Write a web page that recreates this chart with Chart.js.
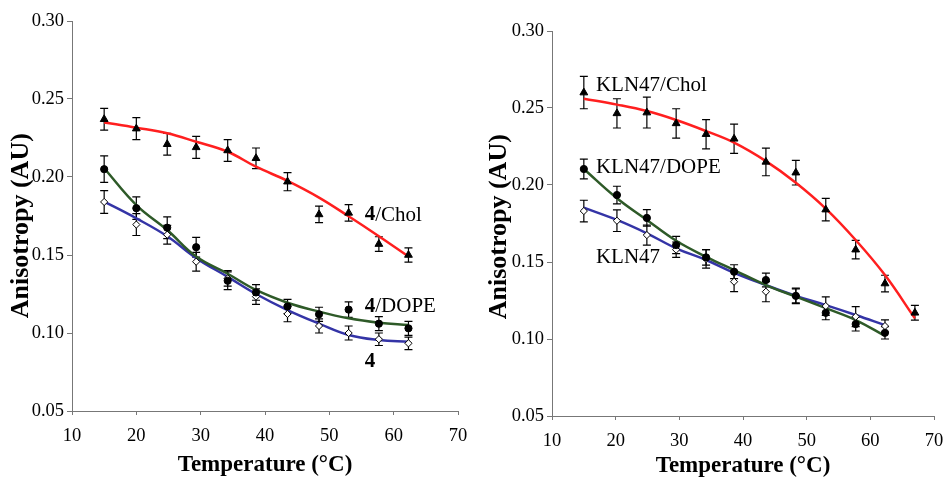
<!DOCTYPE html>
<html>
<head>
<meta charset="utf-8">
<script src="https://cdn.jsdelivr.net/npm/chart.js@4"></script>
<style>
  body { margin: 0; background: #fff; }
  canvas { position: absolute; top: 0; }
  #left { left: 0; }
  #right { left: 472px; }
</style>
</head>
<body>
<canvas id="left" width="472" height="478"></canvas>
<canvas id="right" width="473" height="478"></canvas>
<script>
// left panel: compound 4
const tempL = [15, 20, 24.8, 29.3, 34.2, 38.6, 43.5, 48.4, 53, 57.7, 62.3];
const cholL = [0.237, 0.231, 0.221, 0.219, 0.217, 0.212, 0.197, 0.176, 0.177, 0.157, 0.150];
const cholErrL = [0.007, 0.007, 0.007, 0.007, 0.007, 0.0066, 0.0058, 0.0053, 0.0053, 0.0047, 0.0046];
const dopeL = [0.205, 0.180, 0.1675, 0.155, 0.1335, 0.126, 0.117, 0.112, 0.115, 0.106, 0.103];
const dopeErrL = [0.0085, 0.0072, 0.007, 0.0063, 0.0057, 0.005, 0.0045, 0.0045, 0.005, 0.0045, 0.0045];
const plainL = [0.184, 0.1695, 0.163, 0.1457, 0.135, 0.1233, 0.1122, 0.1045, 0.100, 0.096, 0.0934];
const plainErrL = [0.0073, 0.007, 0.006, 0.006, 0.005, 0.005, 0.005, 0.0045, 0.0045, 0.004, 0.004];
const fitCholL = [0.235, 0.2316, 0.228, 0.2226, 0.2162, 0.2066, 0.1975, 0.1868, 0.1748, 0.162, 0.149];
const fitDopeL = [0.2056, 0.182, 0.166, 0.149, 0.138, 0.1276, 0.1194, 0.1137, 0.1094, 0.1066, 0.1051];
const fitPlainL = [0.1842, 0.1735, 0.162, 0.148, 0.136, 0.125, 0.1147, 0.106, 0.0987, 0.0955, 0.0944];

// right panel: KLN47
const tempR = [15, 20.2, 24.9, 29.5, 34.2, 38.6, 43.6, 48.3, 53, 57.7, 62.3, 67];
const cholR = [0.260, 0.2465, 0.247, 0.240, 0.233, 0.230, 0.215, 0.208, 0.184, 0.158, 0.136, 0.117];
const cholErrR = [0.0105, 0.0095, 0.01, 0.0095, 0.0095, 0.0095, 0.009, 0.008, 0.0073, 0.006, 0.0054, 0.0048];
const dopeR = [0.2104, 0.1935, 0.1786, 0.161, 0.153, 0.1437, 0.1383, 0.128, 0.117, 0.1097, 0.104];
const dopeErrR = [0.0064, 0.0057, 0.0054, 0.0056, 0.005, 0.0045, 0.0045, 0.0045, 0.0045, 0.0045, 0.004];
const plainR = [0.1831, 0.1768, 0.1675, 0.158, 0.152, 0.1372, 0.1307, 0.128, 0.1214, 0.1145, 0.1084];
const plainErrR = [0.007, 0.007, 0.0065, 0.005, 0.006, 0.0065, 0.0065, 0.005, 0.006, 0.0065, 0.004];
const fitCholR = [0.256, 0.2522, 0.248, 0.2422, 0.235, 0.2275, 0.2155, 0.2015, 0.1847, 0.1643, 0.1415, 0.1134];
const fitDopeR = [0.2104, 0.1914, 0.1773, 0.1638, 0.1534, 0.1448, 0.135, 0.1275, 0.12, 0.1123, 0.102];
const fitPlainR = [0.1853, 0.1773, 0.1686, 0.1589, 0.1513, 0.143, 0.135, 0.128, 0.122, 0.1156, 0.109];

const xTicks = [10, 20, 30, 40, 50, 60, 70];
const yTicks = [0.05, 0.10, 0.15, 0.20, 0.25, 0.30];

const SERIF = '"Liberation Serif", "Times New Roman", serif';
const RED = '#ff1f1f', GREEN = '#2e5a28', BLUE = '#3434a6';

const pts = (xs, ys) => ys.map((v, i) => ({ x: xs[i], y: v }));

const errorBars = {
  id: 'errorBars',
  beforeDatasetsDraw(chart) {
    const ctx = chart.ctx, xs = chart.scales.x, ys = chart.scales.y;
    ctx.save();
    ctx.strokeStyle = '#000';
    ctx.lineWidth = 1.2;
    chart.data.datasets.forEach(ds => {
      if (!ds.errors) return;
      ds.data.forEach((p, i) => {
        const px = xs.getPixelForValue(p.x);
        const top = ys.getPixelForValue(p.y + ds.errors[i]);
        const bot = ys.getPixelForValue(p.y - ds.errors[i]);
        ctx.beginPath();
        ctx.moveTo(px, top); ctx.lineTo(px, bot);
        ctx.moveTo(px - 4, top); ctx.lineTo(px + 4, top);
        ctx.moveTo(px - 4, bot); ctx.lineTo(px + 4, bot);
        ctx.stroke();
      });
    });
    ctx.restore();
  }
};

const seriesLabels = {
  id: 'seriesLabels',
  afterDatasetsDraw(chart, args, opts) {
    const ctx = chart.ctx, xs = chart.scales.x, ys = chart.scales.y;
    ctx.save();
    ctx.fillStyle = '#000';
    ctx.textBaseline = 'middle';
    opts.items.forEach(it => {
      let px = xs.getPixelForValue(it.x);
      const py = ys.getPixelForValue(it.y);
      if (it.bold) {
        ctx.font = 'bold 21px ' + SERIF;
        ctx.fillText(it.bold, px, py);
        px += ctx.measureText(it.bold).width;
      }
      ctx.font = '21px ' + SERIF;
      ctx.fillText(it.text || '', px, py);
    });
    ctx.restore();
  }
};

function makePanel(id, temps, sets, labels, pad, yWidth, xHeight, yTitle, yTitlePad, xTitlePad) {
  const n = sets.dope.length;
  const curve = { type: 'line', borderWidth: 2.5, pointRadius: 0, tension: 0.4, order: 2 };
  const datasets = [
    { ...curve, data: pts(temps, sets.fitChol), borderColor: RED },
    { ...curve, data: pts(temps.slice(0, n), sets.fitDope), borderColor: GREEN },
    { ...curve, data: pts(temps.slice(0, n), sets.fitPlain), borderColor: BLUE },
    { type: 'scatter', data: pts(temps, sets.chol), errors: sets.cholErr, pointStyle: 'triangle', pointRadius: 4.5, backgroundColor: '#000', borderColor: '#000', borderWidth: 1, order: 1 },
    { type: 'scatter', data: pts(temps, sets.dope), errors: sets.dopeErr, pointStyle: 'circle', pointRadius: 3.6, backgroundColor: '#000', borderColor: '#000', borderWidth: 1, order: 1 },
    { type: 'scatter', data: pts(temps, sets.plain), errors: sets.plainErr, pointStyle: 'rectRot', pointRadius: 3.6, backgroundColor: '#fff', borderColor: '#000', borderWidth: 1, order: 1 }
  ];
  return new Chart(document.getElementById(id), {
    data: { datasets },
    plugins: [errorBars, seriesLabels],
    options: {
      responsive: false,
      animation: false,
      layout: { padding: pad },
      plugins: { legend: { display: false }, tooltip: { enabled: false }, seriesLabels: { items: labels } },
      scales: {
        x: {
          type: 'linear', min: 10, max: 70,
          afterFit: s => { s.height = xHeight; s.paddingLeft = 0; s.paddingRight = 0; },
          afterBuildTicks: s => { s.ticks = xTicks.map(v => ({ value: v })); },
          ticks: { color: '#000', font: { family: SERIF, size: 18.5 }, padding: 10 },
          grid: { drawOnChartArea: false, tickLength: 4, tickColor: '#777' },
          border: { color: '#777', width: 1 },
          title: { display: true, text: 'Temperature (°C)', color: '#000', font: { family: SERIF, size: 23, weight: 'bold', lineHeight: 1 }, padding: { top: 0, bottom: xTitlePad } }
        },
        y: {
          min: 0.05, max: 0.30,
          afterFit: s => { s.width = yWidth; },
          afterBuildTicks: s => { s.ticks = yTicks.map(v => ({ value: v })); },
          ticks: { color: '#000', font: { family: SERIF, size: 18.5 }, padding: 3, callback: v => v.toFixed(2) },
          grid: { drawOnChartArea: false, tickLength: 5, tickColor: '#777' },
          border: { color: '#777', width: 1 },
          title: { display: true, text: yTitle, color: '#000', font: { family: SERIF, size: 26, weight: 'bold', lineHeight: 1 }, padding: { top: yTitlePad, bottom: 0 } }
        }
      }
    }
  });
}

makePanel('left', tempL,
  { chol: cholL, cholErr: cholErrL, dope: dopeL, dopeErr: dopeErrL, plain: plainL, plainErr: plainErrL,
    fitChol: fitCholL, fitDope: fitDopeL, fitPlain: fitPlainL },
  [ { x: 55.5, y: 0.1756, bold: '4', text: '/Chol' },
    { x: 55.5, y: 0.1169, bold: '4', text: '/DOPE' },
    { x: 55.5, y: 0.082, bold: '4', text: '' } ],
  { top: 21, right: 14, bottom: 0, left: 0 }, 72, 67, 'Anisotropy (AU)   ', 8, 1.5);

makePanel('right', tempR,
  { chol: cholR, cholErr: cholErrR, dope: dopeR, dopeErr: dopeErrR, plain: plainR, plainErr: plainErrR,
    fitChol: fitCholR, fitDope: fitDopeR, fitPlain: fitPlainR },
  [ { x: 16.9, y: 0.2643, text: 'KLN47/Chol' },
    { x: 16.9, y: 0.2115, text: 'KLN47/DOPE' },
    { x: 16.9, y: 0.153, text: 'KLN47' } ],
  { top: 31, right: 11, bottom: 0, left: 0 }, 80, 62, 'Anisotropy (AU) ', 14, 0);
</script>
</body>
</html>
